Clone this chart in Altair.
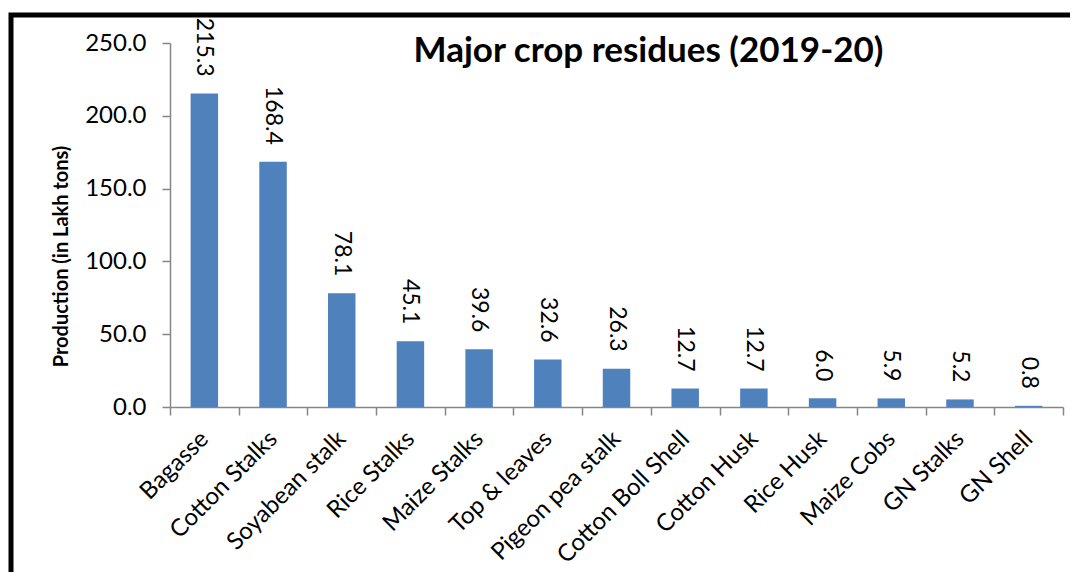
import altair as alt
import pandas as pd

categories = ["Bagasse", "Cotton Stalks", "Soyabean stalk", "Rice Stalks", "Maize Stalks",
              "Top & leaves", "Pigeon pea stalk", "Cotton Boll Shell", "Cotton Husk",
              "Rice Husk", "Maize Cobs", "GN Stalks", "GN Shell"]
values = [215.3, 168.4, 78.1, 45.1, 39.6, 32.6, 26.3, 12.7, 12.7, 6.0, 5.9, 5.2, 0.8]
y_ticks = [0, 50, 100, 150, 200, 250]

df = pd.DataFrame({"crop": categories, "prod": values})

FONT = "Lato"
GREY = "#868686"

base = alt.Chart(df).encode(
    x=alt.X("crop:N", sort=categories,
            scale=alt.Scale(paddingInner=0, paddingOuter=0),
            axis=alt.Axis(title=None, labelAngle=-45, labelAlign="right", labelBaseline="middle",
                          labelFont=FONT, labelFontSize=24, labelColor="black",
                          labelPadding=20, tickBand="extent", tickSize=8,
                          domainColor=GREY, tickColor=GREY, domainWidth=1.5, tickWidth=1.5,
                          labelOverlap=False)),
    y=alt.Y("prod:Q", scale=alt.Scale(domain=[0, 250], nice=False),
            axis=alt.Axis(title="Production (in Lakh tons)", values=y_ticks, format=".1f",
                          grid=False, labelFont=FONT, labelFontSize=24, labelColor="black",
                          labelPadding=16, tickSize=8, domainColor=GREY, tickColor=GREY,
                          domainWidth=1.5, tickWidth=1.5,
                          titleFont=FONT, titleFontSize=20, titleFontWeight="bold",
                          titleColor="black", titleX=-109, titleY=213,
                          titleAlign="center", titleBaseline="middle", titleAngle=-90)),
)

bars = base.mark_bar(color="#4F81BD", width={"band": 0.4})
labels = base.mark_text(angle=90, align="right", baseline="middle", dx=-17,
                        font=FONT, fontSize=23, color="black").encode(
    text=alt.Text("prod:Q", format=".1f"))

border = alt.Chart(pd.DataFrame({"b": [0]})).mark_rect(
    fill=None, stroke="black", strokeWidth=5).encode(
    x=alt.value(-159), x2=alt.value(1200), y=alt.value(-28), y2=alt.value(700))

chart = alt.layer(border, bars, labels).properties(
    width=893, height=364,
    background="white",
    title=alt.TitleParams("Major crop residues (2019-20)", font=FONT, fontSize=35,
                          fontWeight="bold", color="black", anchor="middle",
                          baseline="alphabetic", offset=0, dx=32, dy=84),
    autosize=alt.AutoSizeParams(type="none"),
    padding={"left": 162, "top": 35, "right": 7, "bottom": 165},
).configure_view(stroke=None)

chart.save("out.html", embed_options={"renderer": "svg", "actions": False})
